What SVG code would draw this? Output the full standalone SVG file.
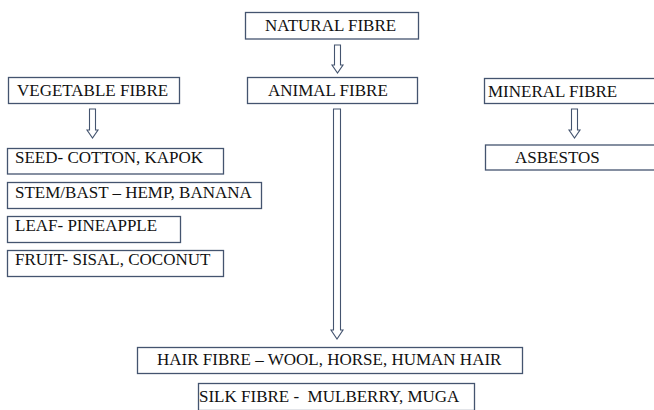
<svg xmlns="http://www.w3.org/2000/svg" width="654" height="410" viewBox="0 0 654 410">
<style>
.box{fill:#fff;stroke:#44546f;stroke-width:1.3}
.arr{fill:#fff;stroke:#44546f;stroke-width:1.1;stroke-linejoin:miter}
text{font-family:"Liberation Serif","Times New Roman",serif;font-size:17px;fill:#111}
</style>
<rect width="654" height="410" fill="#fff"/>
<g id="connectors">
<path class="arr" d="M334.5 45 H340.5 V65 H343 L337.5 73 L332 65 H334.5 Z"/>
<path class="arr" d="M89.5 109 H95.5 V130 H98 L92.5 138 L87 130 H89.5 Z"/>
<path class="arr" d="M571.5 109 H577.5 V130 H580 L574.5 138 L569 130 H571.5 Z"/>
<path class="arr" d="M333.5 109 H340.5 V330 H343 L337 339 L331 330 H333.5 Z"/>
</g>
<g id="natural"><rect class="box" x="245.5" y="12.5" width="173" height="26.5"/><text x="265" y="31">NATURAL FIBRE</text></g>
<g id="vegetable"><rect class="box" x="8.5" y="77.5" width="171" height="26"/><text x="17" y="96">VEGETABLE FIBRE</text></g>
<g id="animal"><rect class="box" x="247.5" y="77.5" width="170" height="26"/><text x="268" y="96">ANIMAL FIBRE</text></g>
<g id="mineral"><rect class="box" x="484.5" y="78.5" width="180" height="25"/><text x="488" y="96.5">MINERAL FIBRE</text></g>
<g id="asbestos"><rect class="box" x="485.5" y="145" width="180" height="25"/><text x="515" y="163">ASBESTOS</text></g>
<g id="seed"><rect class="box" x="7.5" y="148.5" width="216" height="25.5"/><text x="15" y="163">SEED- COTTON, KAPOK</text></g>
<g id="stem"><rect class="box" x="7.5" y="182.5" width="254" height="26"/><text x="15" y="198">STEM/BAST – HEMP, BANANA</text></g>
<g id="leaf"><rect class="box" x="7.5" y="216.5" width="173" height="26"/><text x="15" y="231">LEAF- PINEAPPLE</text></g>
<g id="fruit"><rect class="box" x="7.5" y="250.5" width="216" height="26"/><text x="15" y="265">FRUIT- SISAL, COCONUT</text></g>
<g id="hair"><rect class="box" x="137.5" y="347.5" width="385" height="26"/><text x="157" y="365">HAIR FIBRE – WOOL, HORSE, HUMAN HAIR</text></g>
<g id="silk"><rect class="box" x="198.5" y="383.5" width="276" height="27"/><text x="199" y="402" xml:space="preserve">SILK FIBRE -  MULBERRY, MUGA</text></g>
</svg>
